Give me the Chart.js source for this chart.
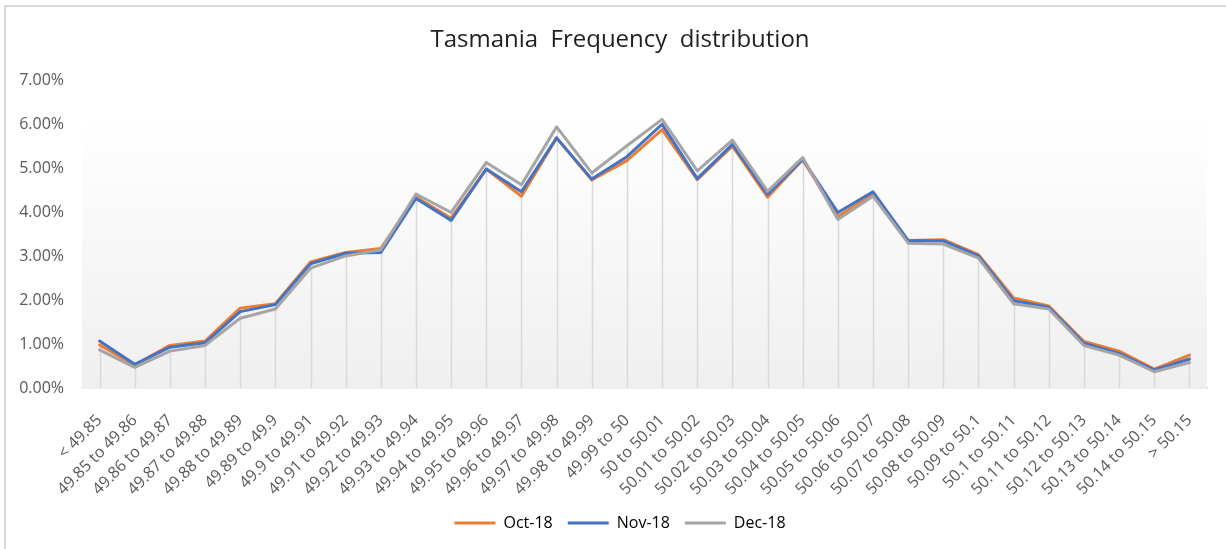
<!DOCTYPE html>
<html>
<head>
<meta charset="utf-8">
<title>Tasmania Frequency distribution</title>
<script src="https://cdn.jsdelivr.net/npm/chart.js@4/dist/chart.umd.min.js"></script>
<style>
  html, body { margin: 0; padding: 0; background: #fff; overflow: hidden; }
  #frame { position: absolute; left: 4px; top: 5px; width: 1300px; height: 600px;
           border-left: 2px solid #d9d9d9; border-top: 2px solid #d9d9d9; }
  #chart { position: absolute; left: 0; top: 0; }
</style>
</head>
<body>
<div id="frame"></div>
<canvas id="chart" width="1226" height="549"></canvas>
<script>
// frequency bands
const categories = [
  '< 49.85', '49.85 to 49.86', '49.86 to 49.87', '49.87 to 49.88', '49.88 to 49.89',
  '49.89 to 49.9', '49.9 to 49.91', '49.91 to 49.92', '49.92 to 49.93', '49.93 to 49.94',
  '49.94 to 49.95', '49.95 to 49.96', '49.96 to 49.97', '49.97 to 49.98', '49.98 to 49.99',
  '49.99 to 50', '50 to 50.01', '50.01 to 50.02', '50.02 to 50.03', '50.03 to 50.04',
  '50.04 to 50.05', '50.05 to 50.06', '50.06 to 50.07', '50.07 to 50.08', '50.08 to 50.09',
  '50.09 to 50.1', '50.1 to 50.11', '50.11 to 50.12', '50.12 to 50.13', '50.13 to 50.14',
  '50.14 to 50.15', '> 50.15'
];

// share of time in each band, in percent
const oct18 = [0.98, 0.52, 0.97, 1.07, 1.82, 1.92, 2.87, 3.09, 3.18, 4.35, 3.87, 4.99, 4.37, 5.70, 4.74, 5.18,
               5.89, 4.75, 5.51, 4.35, 5.20, 3.91, 4.42, 3.36, 3.38, 3.04, 2.05, 1.87, 1.06, 0.84, 0.43, 0.75];
const nov18 = [1.07, 0.54, 0.93, 1.03, 1.74, 1.90, 2.83, 3.07, 3.09, 4.32, 3.82, 4.99, 4.47, 5.70, 4.76, 5.27,
               6.01, 4.77, 5.55, 4.41, 5.21, 4.00, 4.47, 3.36, 3.35, 3.01, 1.99, 1.84, 1.02, 0.79, 0.41, 0.66];
const dec18 = [0.87, 0.47, 0.84, 0.97, 1.59, 1.80, 2.73, 3.01, 3.15, 4.42, 4.00, 5.14, 4.63, 5.95, 4.90, 5.52,
               6.12, 4.95, 5.65, 4.48, 5.25, 3.84, 4.37, 3.30, 3.28, 2.96, 1.92, 1.80, 0.97, 0.75, 0.37, 0.58];

const seriesNames = ['Oct-18', 'Nov-18', 'Dec-18'];
const seriesColors = ['#ED7D31', '#4472C4', '#A5A5A5'];

const FONT = '"Open Sans", "Noto Sans", sans-serif';

// plot area background (white to light grey) + drop lines
const plotDecor = {
  id: 'plotDecor',
  beforeDatasetsDraw(chart) {
    const { ctx, chartArea: a, scales: { x, y } } = chart;
    ctx.save();
    const g = ctx.createLinearGradient(0, a.top, 0, a.bottom);
    g.addColorStop(0, '#ffffff');
    g.addColorStop(0.12, '#ffffff');
    g.addColorStop(1, '#efefef');
    ctx.fillStyle = g;
    ctx.fillRect(a.left, a.top, a.right - a.left, a.bottom - a.top);

    ctx.strokeStyle = '#d9d9d9';
    ctx.lineWidth = 1.5;
    categories.forEach((c, i) => {
      const top = Math.max(oct18[i], nov18[i], dec18[i]);
      const px = Math.round(x.getPixelForValue(i)) + 0.5;
      ctx.beginPath();
      ctx.moveTo(px, y.getPixelForValue(top));
      ctx.lineTo(px, a.bottom);
      ctx.stroke();
    });
    ctx.restore();
  }
};

const ctx = document.getElementById('chart').getContext('2d');
new Chart(ctx, {
  type: 'line',
  data: {
    labels: categories,
    datasets: [oct18, nov18, dec18].map((d, i) => ({
      label: seriesNames[i],
      data: d,
      borderColor: seriesColors[i],
      backgroundColor: seriesColors[i],
      borderWidth: 3,
      borderJoinStyle: 'round',
      borderCapStyle: 'round',
      pointRadius: 0,
      tension: 0,
      order: 2 - i // Dec drawn on top like Excel
    }))
  },
  options: {
    responsive: false,
    animation: false,
    layout: { padding: { left: 15, right: 1, top: 0, bottom: 8 } },
    plugins: {
      title: {
        display: true,
        text: 'Tasmania  Frequency  distribution',
        color: '#1f1f1f',
        font: { family: FONT, size: 24, weight: 'normal' },
        padding: { top: 26, bottom: 26 }
      },
      legend: {
        position: 'bottom',
        labels: {
          color: '#595959',
          font: { family: FONT, size: 16 },
          boxWidth: 41,
          boxHeight: 3,
          padding: 15,
          generateLabels: () => seriesNames.map((n, i) => ({
            text: n,
            fillStyle: seriesColors[i],
            strokeStyle: seriesColors[i],
            lineWidth: 0,
            datasetIndex: i
          }))
        }
      },
      tooltip: { enabled: false }
    },
    scales: {
      x: {
        offset: true,
        grid: { display: false },
        border: { display: true, color: '#d9d9d9', width: 1.5 },
        ticks: {
          color: '#595959',
          font: { family: FONT, size: 16 },
          minRotation: 45,
          maxRotation: 45,
          autoSkip: false,
          padding: 15
        },
        afterFit(scale) { scale.height = 112; }
      },
      y: {
        min: 0,
        max: 7,
        grid: { display: false, drawTicks: false },
        border: { display: false },
        ticks: {
          stepSize: 1,
          color: '#595959',
          font: { family: FONT, size: 16 },
          padding: 18,
          callback: v => v.toFixed(2) + '%'
        },
        afterFit(scale) { scale.width = 67; }
      },
      // empty right-hand margin so the chart area ends where Excel's does
      yRight: {
        position: 'right',
        display: true,
        grid: { display: false, drawTicks: false },
        border: { display: false },
        ticks: { display: false },
        afterFit(scale) { scale.width = 18; }
      }
    }
  },
  plugins: [plotDecor]
});
</script>
</body>
</html>
